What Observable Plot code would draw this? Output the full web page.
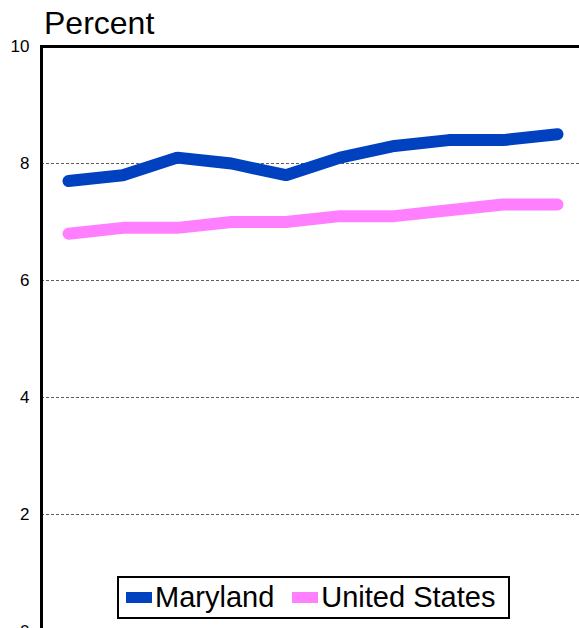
<!DOCTYPE html>
<html>
<head>
<meta charset="utf-8">
<script src="https://cdn.jsdelivr.net/npm/d3@7"></script>
<script src="https://cdn.jsdelivr.net/npm/@observablehq/plot@0.6"></script>
<style>
  html, body { margin: 0; padding: 0; background: #fff; overflow: hidden; }
  #wrap { position: relative; width: 579px; height: 628px; overflow: hidden; font-family: "Liberation Sans", Arial, sans-serif; }
  #title { position: absolute; left: 44px; top: 7px; font-size: 32px; color: #000; line-height: 1; }
  #chart { position: absolute; left: 0; top: 0; }
  #legend { position: absolute; left: 117px; top: 576px; width: 389px; height: 39px; border: 2px solid #000; background: #fff;
            display: flex; align-items: center; font-size: 29px; color: #000; box-sizing: content-box; }
  .item { display: flex; align-items: center; }
  .sw { width: 26px; height: 11px; margin-left: 7px; margin-right: 3px; }
</style>
</head>
<body>
<div id="wrap">
  <div id="chart"></div>
  <div id="title">Percent</div>
  <div id="legend"></div>
</div>
<script>
const periods = [1, 2, 3, 4, 5, 6, 7, 8, 9, 10];
const seriesNames = ["Maryland", "United States"];
const seriesColors = ["#0041BF", "#FF80FF"];
const maryland = [7.7, 7.8, 8.1, 8.0, 7.8, 8.1, 8.3, 8.4, 8.4, 8.5];
const unitedStates = [6.8, 6.9, 6.9, 7.0, 7.0, 7.1, 7.1, 7.2, 7.3, 7.3];
const yTicks = [0, 2, 4, 6, 8, 10];
const gridTicks = [2, 4, 6, 8];

const data = [];
periods.forEach((p, i) => {
  data.push({period: p, value: maryland[i], series: seriesNames[0]});
  data.push({period: p, value: unitedStates[i], series: seriesNames[1]});
});

const chart = Plot.plot({
  width: 579,
  height: 660,
  marginTop: 46,
  marginBottom: 29,
  marginLeft: 41,
  marginRight: 0,
  style: {fontFamily: "'Liberation Sans', Arial, sans-serif", fontSize: "17px", color: "#000", background: "#fff"},
  x: {type: "linear", domain: [periods[0], periods[periods.length - 1]], insetLeft: 27, insetRight: 22, axis: null},
  y: {domain: [0, 10], ticks: yTicks, tickSize: 0, tickPadding: 12, label: null, tickFormat: d => d},
  color: {domain: seriesNames, range: seriesColors},
  marks: [
    Plot.ruleY(gridTicks, {stroke: "#000", strokeWidth: 0.8, strokeDasharray: "3,2", strokeOpacity: 0.8}),
    Plot.ruleY([10], {stroke: "#000", strokeWidth: 3}),
    Plot.line(data, {x: "period", y: "value", z: "series", stroke: "series", strokeWidth: 12, strokeLinecap: "round", strokeLinejoin: "miter"}),
    Plot.frame({anchor: "left", stroke: "#000", strokeWidth: 3})
  ]
});
document.getElementById("chart").appendChild(chart);

const legend = document.getElementById("legend");
seriesNames.forEach((name, i) => {
  const item = document.createElement("div");
  item.className = "item";
  if (i > 0) item.style.marginLeft = "11px";
  const sw = document.createElement("div");
  sw.className = "sw";
  sw.style.background = seriesColors[i];
  const t = document.createElement("span");
  t.textContent = name;
  item.appendChild(sw);
  item.appendChild(t);
  legend.appendChild(item);
});
</script>
</body>
</html>
